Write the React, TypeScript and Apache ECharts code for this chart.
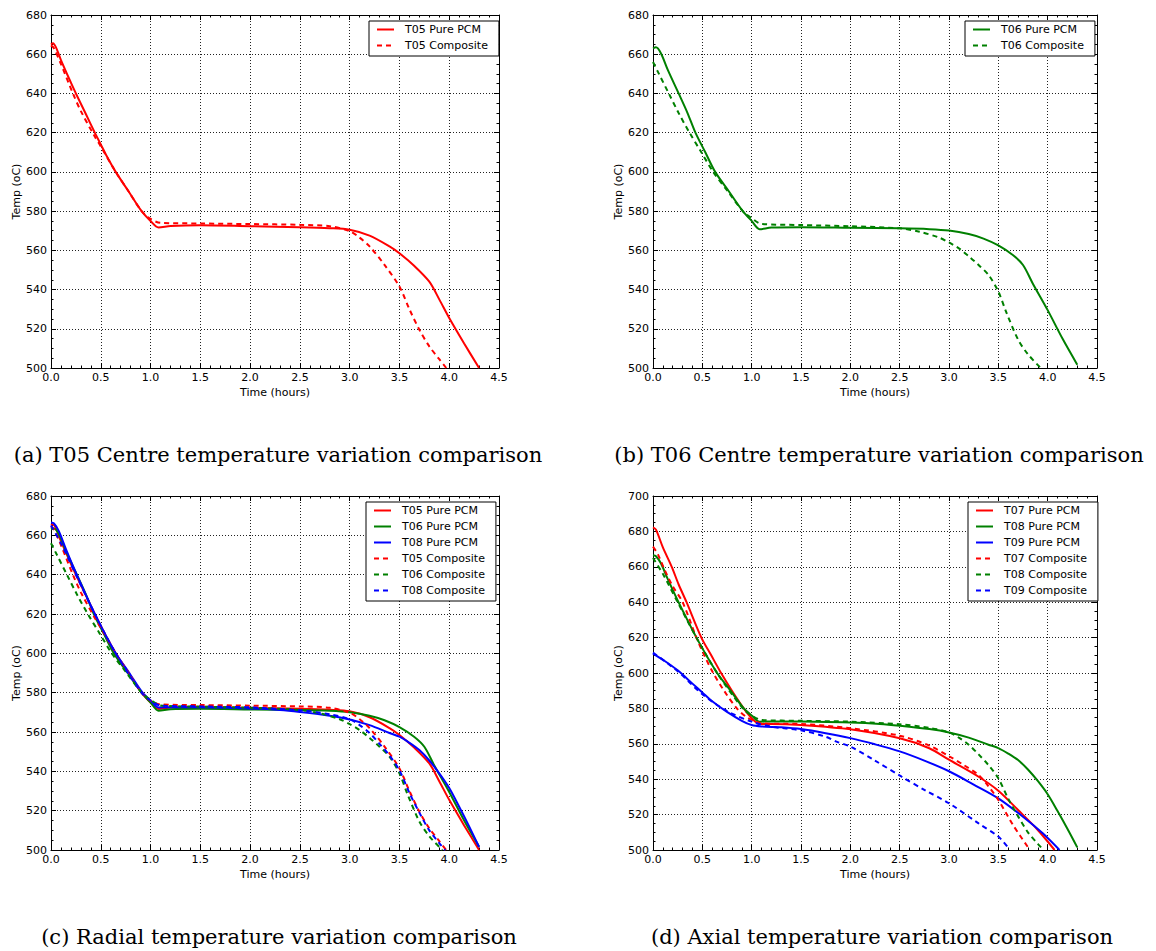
import React, { useEffect, useRef } from "react";
import * as echarts from "echarts";

// ---------- data: [time (hours), temperature (oC)] ----------
const t05Pure: number[][] = [
  [0, 665], [0.02, 665.6], [0.05, 663.5], [0.1, 657], [0.2, 645.5], [0.25, 640],
  [0.35, 629.5], [0.44, 620], [0.5, 614], [0.55, 609], [0.65, 600], [0.78, 590],
  [0.91, 580], [1.0, 575], [1.08, 571.7], [1.2, 572.4], [1.5, 572.8], [2.0, 572.3],
  [2.5, 571.8], [2.8, 571.3], [3.0, 570.5], [3.2, 567.5], [3.4, 562], [3.5, 558.5],
  [3.65, 552], [3.8, 544], [3.9, 535], [4.0, 525.5], [4.15, 512.5], [4.3, 500],
];
const t05Comp: number[][] = [
  [0, 664.5], [0.03, 663], [0.1, 655], [0.22, 640], [0.3, 631], [0.44, 618],
  [0.5, 613], [0.65, 600], [0.78, 590], [0.91, 580], [1.0, 576], [1.1, 574],
  [1.5, 573.7], [2.0, 573.4], [2.5, 573], [2.8, 572.3], [3.0, 569.8], [3.1, 566.5],
  [3.2, 562], [3.35, 552.6], [3.5, 541.5], [3.6, 530], [3.7, 519.5], [3.8, 511],
  [3.9, 504.5], [3.97, 500],
];
const t06Pure: number[][] = [
  [0, 663], [0.03, 663.5], [0.08, 660.5], [0.15, 652], [0.26, 640], [0.35, 630],
  [0.43, 620], [0.53, 610], [0.63, 600], [0.77, 590], [0.91, 580], [1.0, 575],
  [1.08, 570.8], [1.2, 571.6], [1.5, 571.8], [2.0, 571.5], [2.5, 571.2], [2.8, 570.8],
  [3.0, 570.1], [3.2, 568.3], [3.35, 566], [3.5, 562.5], [3.65, 557.5], [3.75, 552.5],
  [3.85, 543], [4.0, 529.5], [4.15, 515], [4.3, 501.7],
];
const t06Comp: number[][] = [
  [0, 656], [0.05, 651], [0.16, 640], [0.26, 630], [0.37, 620], [0.49, 610],
  [0.61, 600], [0.76, 590], [0.91, 580], [1.0, 576.4], [1.1, 573.5], [1.5, 572.9],
  [2.0, 572.3], [2.5, 571.2], [2.7, 569.5], [2.9, 566.5], [3.0, 564], [3.1, 561],
  [3.2, 557], [3.3, 552.5], [3.4, 547.5], [3.5, 539], [3.58, 528.5], [3.7, 514.5],
  [3.8, 507], [3.93, 500],
];
const t08Pure: number[][] = [
  [0, 666.5], [0.03, 666], [0.08, 662], [0.15, 653], [0.25, 641], [0.45, 619],
  [0.65, 600], [0.78, 590.5], [0.92, 580], [1.0, 576], [1.08, 572.5], [1.2, 572.6],
  [1.5, 572.6], [2.0, 572], [2.3, 571.2], [2.5, 570.2], [2.8, 568.3], [3.0, 566.4],
  [3.2, 563.5], [3.4, 559.5], [3.5, 557.6], [3.6, 554.5], [3.7, 550.8], [3.8, 545.5],
  [3.9, 539], [4.0, 531.5], [4.1, 522], [4.2, 512], [4.3, 501.5],
];
const t08Comp: number[][] = [
  [0, 665], [0.1, 656], [0.25, 640], [0.45, 619], [0.65, 600], [0.91, 580],
  [1.0, 576], [1.1, 573.5], [1.5, 573], [2.0, 572.5], [2.5, 571], [2.8, 569],
  [3.0, 566.5], [3.1, 563.5], [3.2, 559.5], [3.3, 554], [3.4, 548], [3.5, 540.5],
  [3.6, 529], [3.7, 519], [3.8, 510], [3.9, 503.5], [3.96, 500],
];
const t07Pure: number[][] = [
  [0, 682.3], [0.03, 681], [0.1, 671], [0.19, 660], [0.26, 650], [0.34, 640],
  [0.49, 620], [0.59, 610], [0.69, 600], [0.8, 590], [0.92, 580], [1.0, 574.5],
  [1.08, 571.2], [1.2, 571.2], [1.5, 570.6], [2.0, 568.2], [2.5, 563.1], [2.8, 557.5],
  [3.0, 551], [3.3, 541.4], [3.5, 533.5], [3.7, 522.6], [3.9, 511.3], [4.07, 500],
];
const t07Comp: number[][] = [
  [0, 671.4], [0.05, 667], [0.12, 658], [0.2, 649], [0.3, 640], [0.44, 620],
  [0.52, 610], [0.61, 600], [0.72, 590], [0.85, 580], [0.95, 575], [1.05, 572.5],
  [1.1, 571.5], [1.5, 571.2], [2.0, 568.8], [2.5, 564.6], [2.8, 559], [3.0, 553],
  [3.15, 548], [3.3, 542.4], [3.4, 536], [3.5, 528.3], [3.65, 514], [3.82, 500],
];
const t09Pure: number[][] = [
  [0, 611], [0.1, 607.5], [0.25, 601.5], [0.4, 594], [0.5, 589], [0.6, 584],
  [0.75, 578], [0.9, 573], [1.0, 570.6], [1.1, 569.8], [1.3, 569.3], [1.5, 568.3],
  [1.75, 566], [2.0, 563.2], [2.25, 559.7], [2.5, 555.7], [2.75, 550.5], [3.0, 544.5],
  [3.25, 537], [3.5, 529.2], [3.75, 518.8], [3.95, 509.4], [4.12, 500],
];
const t09Comp: number[][] = [
  [0, 611.5], [0.25, 601], [0.5, 588], [0.75, 578.5], [1.0, 572.5], [1.2, 569.7],
  [1.5, 567.6], [1.75, 564], [1.86, 561.2], [2.0, 558.5], [2.25, 550.5], [2.52, 541.4],
  [2.75, 534], [3.0, 526.4], [3.3, 515], [3.5, 507.6], [3.59, 502],
];

// ---------- axis ranges / captions ----------
const X_MIN = 0, X_MAX = 4.5, X_STEP = 0.5;
const Y_MIN = 500, Y_STEP = 20;
const yMaxes = [680, 680, 680, 700];
const captions = [
  "(a) T05 Centre temperature variation comparison",
  "(b) T06 Centre temperature variation comparison",
  "(c) Radial temperature variation comparison",
  "(d) Axial temperature variation comparison",
];
const X_NAME = "Time (hours)";
const Y_NAME = "Temp (oC)";

const RED = "#ff0000", GREEN = "#008000", BLUE = "#0000ff";

type S = { name: string; data: number[][]; color: string; dashed: boolean };
const panelSeries: S[][] = [
  [
    { name: "T05 Pure PCM", data: t05Pure, color: RED, dashed: false },
    { name: "T05 Composite", data: t05Comp, color: RED, dashed: true },
  ],
  [
    { name: "T06 Pure PCM", data: t06Pure, color: GREEN, dashed: false },
    { name: "T06 Composite", data: t06Comp, color: GREEN, dashed: true },
  ],
  [
    { name: "T05 Pure PCM", data: t05Pure, color: RED, dashed: false },
    { name: "T06 Pure PCM", data: t06Pure, color: GREEN, dashed: false },
    { name: "T08 Pure PCM", data: t08Pure, color: BLUE, dashed: false },
    { name: "T05 Composite", data: t05Comp, color: RED, dashed: true },
    { name: "T06 Composite", data: t06Comp, color: GREEN, dashed: true },
    { name: "T08 Composite", data: t08Comp, color: BLUE, dashed: true },
  ],
  [
    { name: "T07 Pure PCM", data: t07Pure, color: RED, dashed: false },
    { name: "T08 Pure PCM", data: t08Pure, color: GREEN, dashed: false },
    { name: "T09 Pure PCM", data: t09Pure, color: BLUE, dashed: false },
    { name: "T07 Composite", data: t07Comp, color: RED, dashed: true },
    { name: "T08 Composite", data: t08Comp, color: GREEN, dashed: true },
    { name: "T09 Composite", data: t09Comp, color: BLUE, dashed: true },
  ],
];

// ---------- layout ----------
const grids = [
  { left: 51, top: 15, width: 448, height: 353 },
  { left: 653, top: 15, width: 444, height: 353 },
  { left: 51, top: 496, width: 448, height: 354 },
  { left: 653, top: 496, width: 444, height: 354 },
];
const legendPos = [
  { left: 369, top: 21 },
  { left: 965, top: 21 },
  { left: 366, top: 502 },
  { left: 968, top: 502 },
];
const captionPos = [
  { x: 278, y: 455 },
  { x: 879, y: 455 },
  { x: 279, y: 937 },
  { x: 882, y: 937 },
];

const SANS = "DejaVu Sans";
const KEY_SEP = "::";

function buildOption() {
  const xAxis: any[] = [];
  const yAxis: any[] = [];
  const series: any[] = [];
  const legend: any[] = [];
  const graphic: any[] = [];
  const tickBase = { show: true, inside: true, length: 5, lineStyle: { color: "#000", width: 1 } };
  const axisLineBase = { show: true, onZero: false, lineStyle: { color: "#000", width: 1 } };
  const gridLine = { show: true, lineStyle: { color: "#222", width: 1, type: [1, 2] } };

  grids.forEach((g, i) => {
    const yMax = yMaxes[i];
    const xCommon = {
      type: "value", gridIndex: i, min: X_MIN, max: X_MAX, interval: X_STEP,
      axisLine: axisLineBase, axisTick: tickBase,
      minorTick: { show: true, splitNumber: 5, length: 2.5, lineStyle: { color: "#000", width: 1 } },
    };
    const yCommon = {
      type: "value", gridIndex: i, min: Y_MIN, max: yMax, interval: Y_STEP,
      axisLine: axisLineBase, axisTick: tickBase,
      minorTick: { show: true, splitNumber: 4, length: 2.5, lineStyle: { color: "#000", width: 1 } },
    };
    const xb = xAxis.length;
    xAxis.push({
      ...xCommon, position: "bottom",
      name: X_NAME, nameLocation: "middle", nameGap: 19,
      nameTextStyle: { fontFamily: SANS, fontSize: 11, color: "#000" },
      axisLabel: { show: true, margin: 4, fontFamily: SANS, fontSize: 11, color: "#000",
        formatter: (v: number) => v.toFixed(1) },
      splitLine: gridLine,
    });
    xAxis.push({ ...xCommon, position: "top", axisLabel: { show: false }, splitLine: { show: false } });
    const yl = yAxis.length;
    yAxis.push({
      ...yCommon, position: "left",
      name: Y_NAME, nameLocation: "middle", nameGap: 29, nameRotate: 90,
      nameTextStyle: { fontFamily: SANS, fontSize: 11, color: "#000" },
      axisLabel: { show: true, margin: 4, fontFamily: SANS, fontSize: 11, color: "#000",
        formatter: (v: number) => String(Math.round(v)) },
      splitLine: gridLine,
    });
    yAxis.push({ ...yCommon, position: "right", axisLabel: { show: false }, splitLine: { show: false } });

    const keys: string[] = [];
    panelSeries[i].forEach((s) => {
      const key = i + KEY_SEP + s.name; // unique per panel so each legend picks its own colour
      keys.push(key);
      series.push({
        type: "line", name: key, xAxisIndex: xb, yAxisIndex: yl,
        data: s.data, symbol: "none", showSymbol: false,
        smooth: 0.3,
        color: s.color,
        itemStyle: { color: s.color },
        lineStyle: { color: s.color, width: 2, type: s.dashed ? [5, 4] : "solid" },
        z: 2,
      });
    });

    legend.push({
      ...legendPos[i], orient: "vertical",
      data: keys,
      itemWidth: 17, itemHeight: 12, itemGap: 5,
      padding: [3, 11, 5, 7],
      borderColor: "#000", borderWidth: 1, backgroundColor: "#fff",
      selectedMode: false,
      itemStyle: { opacity: 0, borderWidth: 0 },
      formatter: (name: string) => "{t|" + name.split(KEY_SEP)[1] + "}",
      textStyle: {
        fontFamily: SANS, fontSize: 11, color: "#000",
        rich: { t: { fontFamily: SANS, fontSize: 11, color: "#000", padding: [0, 0, 0, 6] } },
      },
    });

    graphic.push({
      type: "text", x: captionPos[i].x, y: captionPos[i].y,
      style: {
        text: captions[i], fill: "#000", fontFamily: "DejaVu Serif", fontSize: 21,
        align: "center", verticalAlign: "middle",
        textAlign: "center", textVerticalAlign: "middle",
      },
    });
  });

  return {
    animation: false,
    backgroundColor: "#fff",
    grid: grids.map((g) => ({ ...g, containLabel: false })),
    xAxis, yAxis, series, legend, graphic,
  };
}

export default function App() {
  const ref = useRef<HTMLDivElement>(null);
  useEffect(() => {
    document.body.style.margin = "0";
    if (!ref.current) return;
    const chart = echarts.init(ref.current, undefined, { renderer: "svg" });
    chart.setOption(buildOption() as any);
    return () => chart.dispose();
  }, []);
  return <div ref={ref} style={{ width: 1156, height: 951 }} />;
}
